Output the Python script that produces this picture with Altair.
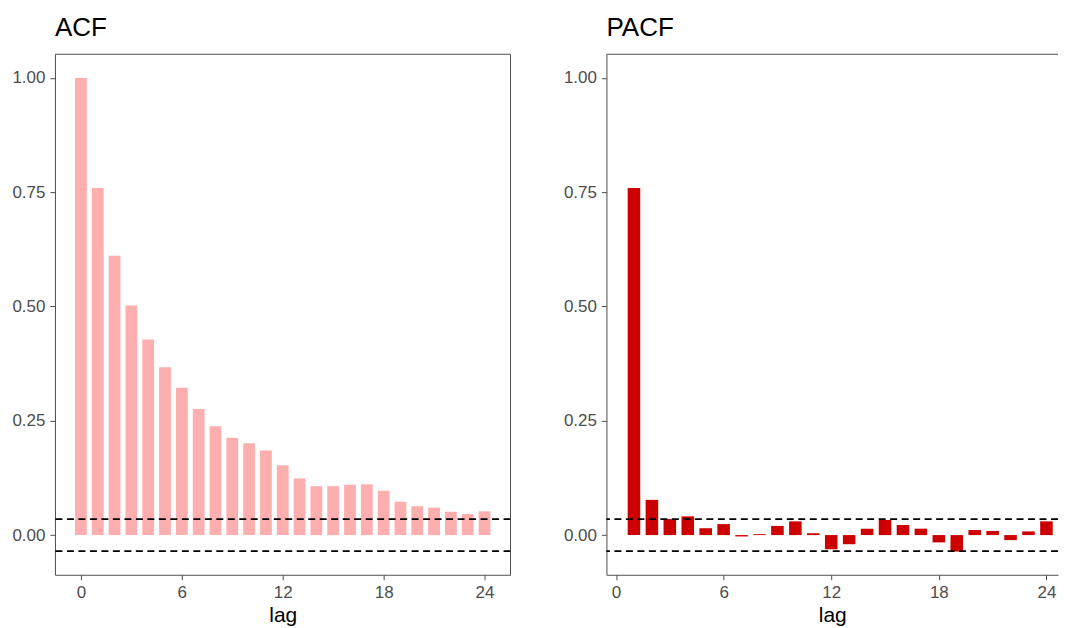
import altair as alt
import pandas as pd

# ---- data ----
acf_lags = [0, 1, 2, 3, 4, 5, 6, 7, 8, 9, 10, 11, 12, 13, 14, 15, 16, 17, 18, 19, 20, 21, 22, 23, 24]
acf_values = [1.000, 0.759, 0.611, 0.502, 0.428, 0.367, 0.322, 0.276, 0.238, 0.213, 0.201,
              0.185, 0.153, 0.124, 0.107, 0.107, 0.110, 0.111, 0.097, 0.073, 0.063, 0.060,
              0.051, 0.046, 0.052]
pacf_lags = [1, 2, 3, 4, 5, 6, 7, 8, 9, 10, 11, 12, 13, 14, 15, 16, 17, 18, 19, 20, 21, 22, 23, 24]
pacf_values = [0.759, 0.077, 0.035, 0.041, 0.015, 0.024, -0.003, 0.002, 0.020, 0.030, 0.004,
               -0.031, -0.020, 0.014, 0.033, 0.022, 0.014, -0.016, -0.036, 0.011, 0.009,
               -0.011, 0.008, 0.030]
conf_bounds = [0.035, -0.035]
x_ticks = [0, 6, 12, 18, 24]
y_ticks = [0.0, 0.25, 0.5, 0.75, 1.0]

FONT = "Liberation Sans"
BORDER = "#4D4D4D"
Y_DOMAIN = [-0.0868, 1.0518]
PLOT_H = 521


def panel(lags, values, title, color, x_domain, width, right_border):
    df = pd.DataFrame({"lag": lags, "value": values})
    xs = alt.Scale(domain=x_domain, nice=False, zero=False)
    ys = alt.Scale(domain=Y_DOMAIN, nice=False, zero=False)
    x_axis = alt.Axis(values=x_ticks, format="d", title="lag", grid=False,
                      labelFontSize=17, labelColor="#4D4D4D", labelFont=FONT,
                      tickColor=BORDER, tickSize=5, domainColor=BORDER, domainWidth=1,
                      labelPadding=5, titleFontSize=21, titleFont=FONT,
                      titleFontWeight="normal", titleColor="black", titlePadding=4)
    y_axis = alt.Axis(values=y_ticks, format=".2f", title=None, grid=False,
                      labelFontSize=17, labelColor="#4D4D4D", labelFont=FONT,
                      tickColor=BORDER, tickSize=5, domainColor=BORDER, domainWidth=1,
                      labelPadding=5)
    bars = alt.Chart(df).transform_calculate(
        lo="datum.lag - 0.35", hi="datum.lag + 0.35"
    ).mark_bar(color=color).encode(
        x=alt.X("lo:Q", scale=xs, axis=x_axis),
        x2="hi:Q",
        y=alt.Y("value:Q", scale=ys, axis=y_axis),
        y2=alt.datum(0),
    )
    conf = alt.Chart(pd.DataFrame({"bound": conf_bounds})).mark_rule(
        color="black", strokeWidth=1.8, strokeDash=[7, 4.5]
    ).encode(y=alt.Y("bound:Q", scale=ys))
    one = pd.DataFrame({"k": [0]})
    top = alt.Chart(one).mark_rule(color=BORDER, strokeWidth=1).encode(
        y=alt.datum(Y_DOMAIN[1], scale=ys))
    layers = [bars, conf, top]
    if right_border:
        right = alt.Chart(one).mark_rule(color=BORDER, strokeWidth=1).encode(
            x=alt.datum(x_domain[1], scale=xs))
        layers.append(right)
    return alt.layer(*layers).properties(
        width=width, height=PLOT_H,
        title=alt.TitleParams(title, anchor="start", fontSize=26, font=FONT,
                              fontWeight="normal", color="black", offset=13, frame="group"),
    )


acf = panel(acf_lags, acf_values, "ACF", "#FDAEAE", [-1.545, 25.545], 456, True)
pacf = panel(pacf_lags, pacf_values, "PACF", "#CC0000", [-0.535, 24.645], 452, False)

chart = alt.hconcat(acf, pacf, spacing=51).properties(
    padding={"left": 3, "top": 6, "right": 0, "bottom": 0}
).configure_view(stroke=None)

chart.save("out.html", embed_options={"renderer": "svg", "actions": False})
